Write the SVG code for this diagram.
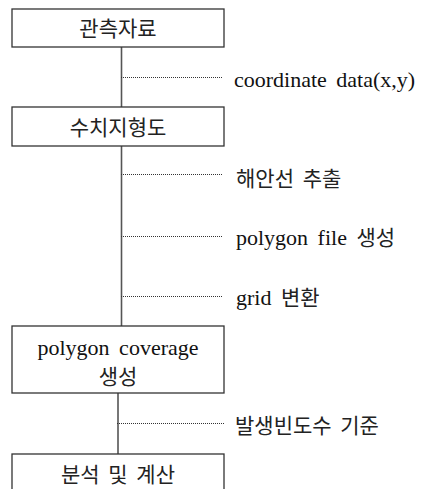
<svg xmlns="http://www.w3.org/2000/svg" width="421" height="489" viewBox="0 0 421 489">
<style>
.box{fill:#fff;stroke:#333;stroke-width:1.3}
.t{font-family:"Liberation Serif","Noto Sans CJK KR",serif;font-size:22px;fill:#111;word-spacing:4px}
.k{font-family:"Noto Sans CJK KR","Liberation Serif",sans-serif;font-size:21px;fill:#222;word-spacing:4px}
.c{text-anchor:middle}
.v{stroke:#555;stroke-width:1.6;fill:none}
.d{stroke:#333;stroke-width:1;stroke-dasharray:1 1;fill:none}
</style>
<rect width="421" height="489" fill="#fff"/>
<g id="connectors">
<line class="v" x1="121.5" y1="47" x2="121.5" y2="107"/>
<line class="v" x1="121.5" y1="146" x2="121.5" y2="326"/>
<line class="v" x1="118" y1="393" x2="118" y2="454"/>
<line class="d" x1="121" y1="77.5" x2="222" y2="77.5"/>
<line class="d" x1="121" y1="174.5" x2="222" y2="174.5"/>
<line class="d" x1="121" y1="236.5" x2="222" y2="236.5"/>
<line class="d" x1="121" y1="296.5" x2="222" y2="296.5"/>
<line class="d" x1="117" y1="423.5" x2="224" y2="423.5"/>
<text class="t" x="234" y="87">coordinate data(x,y)</text>
<text class="k" x="236" y="186">해안선 추출</text>
<text class="t" x="236" y="245">polygon file <tspan class="k">생성</tspan></text>
<text class="t" x="236" y="305">grid <tspan class="k">변환</tspan></text>
<text class="k" x="235" y="433">발생빈도수 기준</text>
</g>
<g id="n1">
<rect class="box" x="12" y="9" width="212" height="38"/>
<text class="k c" x="118" y="36">관측자료</text>
</g>
<g id="n2">
<rect class="box" x="12" y="107" width="212" height="39"/>
<text class="k c" x="118" y="135">수치지형도</text>
</g>
<g id="n3">
<rect class="box" x="12" y="326" width="212" height="67"/>
<text class="t c" x="118" y="355">polygon coverage</text>
<text class="k c" x="118" y="384">생성</text>
</g>
<g id="n4">
<rect class="box" x="12" y="454" width="212" height="60"/>
<text class="k c" x="118" y="482">분석 및 계산</text>
</g>
</svg>
